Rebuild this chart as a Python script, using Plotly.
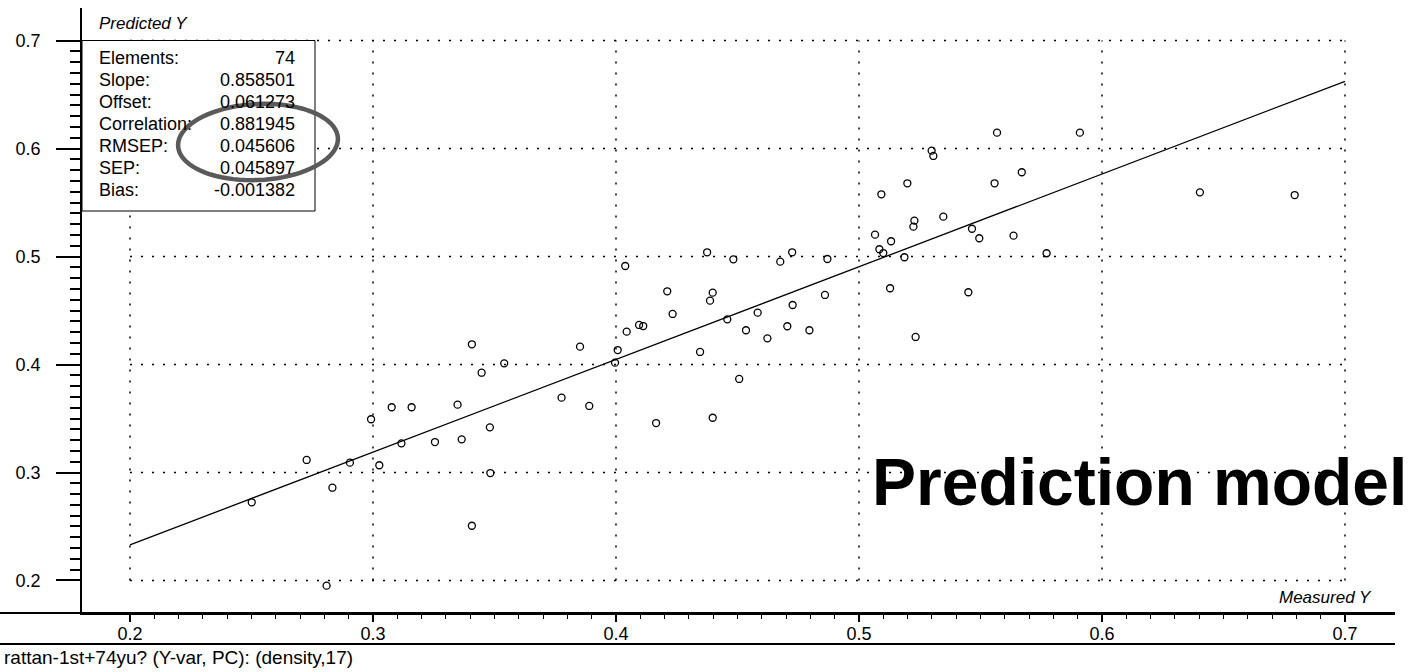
import numpy as np
import plotly.graph_objects as go

# ---------------- data ----------------
measured = [0.2501, 0.2727, 0.2809, 0.2833, 0.2905, 0.2992, 0.3026, 0.3077, 0.3117, 0.3159,
            0.3255, 0.3348, 0.3365, 0.3407, 0.3447, 0.3540, 0.3481, 0.3483, 0.3407, 0.3776,
            0.3852, 0.3890, 0.3996, 0.4007, 0.4044, 0.4095, 0.4112, 0.4038, 0.4211, 0.4233,
            0.4346, 0.4387, 0.4398, 0.4375, 0.4458, 0.4165, 0.4398, 0.4483, 0.4676, 0.4725,
            0.4870, 0.4583, 0.4535, 0.4623, 0.4705, 0.4727, 0.4796, 0.4860, 0.5066, 0.5092,
            0.5084, 0.5100, 0.5132, 0.5187, 0.5128, 0.5199, 0.5228, 0.5224, 0.5233, 0.5299,
            0.5306, 0.5347, 0.5465, 0.5495, 0.5450, 0.5558, 0.5568, 0.5670, 0.5636, 0.5772,
            0.5909, 0.6403, 0.6793, 0.4507]
predicted = [0.2724, 0.3116, 0.1952, 0.2859, 0.3091, 0.3493, 0.3067, 0.3604, 0.3270, 0.3604,
             0.3282, 0.3628, 0.3307, 0.4187, 0.3924, 0.4011, 0.3418, 0.2995, 0.2507, 0.3693,
             0.4165, 0.3616, 0.4017, 0.4134, 0.4304, 0.4366, 0.4356, 0.4912, 0.4678, 0.4468,
             0.4116, 0.4591, 0.4665, 0.5039, 0.4418, 0.3458, 0.3507, 0.4974, 0.4952, 0.5039,
             0.4977, 0.4480, 0.4317, 0.4242, 0.4354, 0.4551, 0.4317, 0.4644, 0.5202, 0.5576,
             0.5067, 0.5032, 0.5141, 0.4993, 0.4706, 0.5678, 0.5332, 0.5276, 0.4255, 0.5980,
             0.5931, 0.5369, 0.5257, 0.5169, 0.4669, 0.5678, 0.6147, 0.5780, 0.5193, 0.5030,
             0.6147, 0.5594, 0.5569, 0.3866]

stat_labels = ["Elements:", "Slope:", "Offset:", "Correlation:", "RMSEP:", "SEP:", "Bias:"]
stat_values = ["74", "0.858501", "0.061273", "0.881945", "0.045606", "0.045897", "-0.001382"]
slope = 0.858501
offset = 0.061273

x_ticks = [0.2, 0.3, 0.4, 0.5, 0.6, 0.7]
x_tick_labels = ["0.2", "0.3", "0.4", "0.5", "0.6", "0.7"]
y_ticks = [0.2, 0.3, 0.4, 0.5, 0.6, 0.7]
y_tick_labels = ["0.2", "0.3", "0.4", "0.5", "0.6", "0.7"]

x_title = "Measured Y"
y_title = "Predicted Y"
footer = "rattan-1st+74yu? (Y-var, PC): (density,17)"
banner = "Prediction model"

# ---------------- layout geometry ----------------
W, H = 1417, 672
L, R, T, B = 82, 22, 8, 59
PW, PH = W - L - R, H - T - B
XR = [0.18025, 0.72058]
YR = [0.1699, 0.7301]

def px(xp):
    return (xp - L) / PW

def py(yp):
    return (H - B - yp) / PH

FONT = "Liberation Sans, Arial, sans-serif"
BLACK = "#000000"

fit_x = [x_ticks[0], x_ticks[-1]]
fit_y = [slope * v + offset for v in fit_x]

minor_vals = [round(x_ticks[0] + 0.01 * i, 2) for i in range(51)]
minor_vals = [v for v in minor_vals if all(abs(v - t) > 1e-9 for t in x_ticks)]

fig = go.Figure()
fig.add_trace(go.Scatter(x=fit_x, y=fit_y, mode="lines",
                         line=dict(color=BLACK, width=1.3), hoverinfo="skip"))
fig.add_trace(go.Scatter(x=measured, y=predicted, mode="markers",
                         marker=dict(symbol="circle-open", size=7, color=BLACK,
                                     line=dict(width=1.3, color=BLACK))))

shapes = []
dash = "2px,9px"
for xv in x_ticks:
    shapes.append(dict(type="line", xref="x", yref="y", x0=xv, x1=xv,
                       y0=y_ticks[0], y1=y_ticks[-1], layer="below",
                       line=dict(color=BLACK, width=1.5, dash=dash)))
for yv in y_ticks:
    shapes.append(dict(type="line", xref="x", yref="y", y0=yv, y1=yv,
                       x0=x_ticks[0], x1=x_ticks[-1], layer="below",
                       line=dict(color=BLACK, width=1.5, dash=dash)))

# stats box
box_top = 40.5
box_bottom = 211
box_right = 315
shapes.append(dict(type="rect", xref="paper", yref="paper",
                   x0=px(L), x1=px(box_right), y0=py(box_bottom), y1=py(box_top),
                   fillcolor="white", line=dict(color=BLACK, width=1), layer="above"))

# x axis extension line and bottom rule
shapes.append(dict(type="line", xref="paper", yref="paper", x0=px(0), x1=px(W - R),
                   y0=py(H - B), y1=py(H - B), line=dict(color=BLACK, width=2)))
shapes.append(dict(type="line", xref="paper", yref="paper", x0=px(0), x1=px(W - R),
                   y0=py(644), y1=py(644), line=dict(color=BLACK, width=2)))

# hand-drawn ellipse around stats
cx, cy, a, b, phi = 258, 142, 80, 38, -0.05
ts = np.linspace(0, 2 * np.pi, 80)
ex = cx + a * np.cos(ts) * np.cos(phi) - b * np.sin(ts) * np.sin(phi)
ey = cy + a * np.cos(ts) * np.sin(phi) + b * np.sin(ts) * np.cos(phi)
path = "M " + " L ".join(f"{px(u):.5f},{py(v):.5f}" for u, v in zip(ex, ey)) + " Z"
shapes.append(dict(type="path", xref="paper", yref="paper", path=path,
                   line=dict(color="#5a5a5a", width=4.5), layer="above"))

annotations = []
row0, row_step = 58, 22
for i, (lab, val) in enumerate(zip(stat_labels, stat_values)):
    yy = row0 + i * row_step
    annotations.append(dict(xref="paper", yref="paper", x=px(97), y=py(yy),
                            xanchor="left", yanchor="middle", showarrow=False,
                            text=lab, font=dict(family=FONT, size=18, color=BLACK)))
    annotations.append(dict(xref="paper", yref="paper", x=px(297), y=py(yy),
                            xanchor="right", yanchor="middle", showarrow=False,
                            text=val, font=dict(family=FONT, size=18, color=BLACK)))

annotations.append(dict(xref="paper", yref="paper", x=px(97), y=py(23),
                        xanchor="left", yanchor="middle", showarrow=False,
                        text=f"<i>{y_title}</i>", font=dict(family=FONT, size=17, color=BLACK)))
annotations.append(dict(xref="paper", yref="paper", x=px(1374), y=py(597),
                        xanchor="right", yanchor="middle", showarrow=False,
                        text=f"<i>{x_title}</i>", font=dict(family=FONT, size=17, color=BLACK)))
annotations.append(dict(xref="paper", yref="paper", x=px(2), y=py(657),
                        xanchor="left", yanchor="middle", showarrow=False,
                        text=footer, font=dict(family=FONT, size=19, color=BLACK)))
annotations.append(dict(xref="paper", yref="paper", x=px(870), y=py(482),
                        xanchor="left", yanchor="middle", showarrow=False,
                        text=f"<b>{banner}</b>", font=dict(family=FONT, size=66, color=BLACK)))

fig.update_layout(
    width=W, height=H,
    margin=dict(l=L, r=R, t=T, b=B, pad=0),
    paper_bgcolor="white", plot_bgcolor="white",
    showlegend=False,
    shapes=shapes, annotations=annotations,
    font=dict(family=FONT, size=18, color=BLACK),
    xaxis=dict(range=XR, showgrid=False, zeroline=False, showline=True,
               linecolor=BLACK, linewidth=2,
               tickmode="array", tickvals=x_ticks, ticktext=x_tick_labels,
               ticks="outside", ticklen=7, tickwidth=1.5, tickcolor=BLACK,
               ticklabelstandoff=-4,
               tickfont=dict(family=FONT, size=18, color=BLACK),
               minor=dict(tickmode="array", tickvals=minor_vals, ticks="outside",
                          ticklen=4, tickwidth=1, tickcolor=BLACK, showgrid=False)),
    yaxis=dict(range=YR, showgrid=False, zeroline=False, showline=True,
               linecolor=BLACK, linewidth=1.5,
               tickmode="array", tickvals=y_ticks, ticktext=y_tick_labels,
               ticks="outside", ticklen=24, tickwidth=1.5, tickcolor=BLACK,
               ticklabelstandoff=12,
               tickfont=dict(family=FONT, size=18, color=BLACK),
               minor=dict(tickmode="array", tickvals=minor_vals, ticks="outside",
                          ticklen=10, tickwidth=1.5, tickcolor=BLACK, showgrid=False)),
)

fig.write_html("out.html", config={"displayModeBar": False})
